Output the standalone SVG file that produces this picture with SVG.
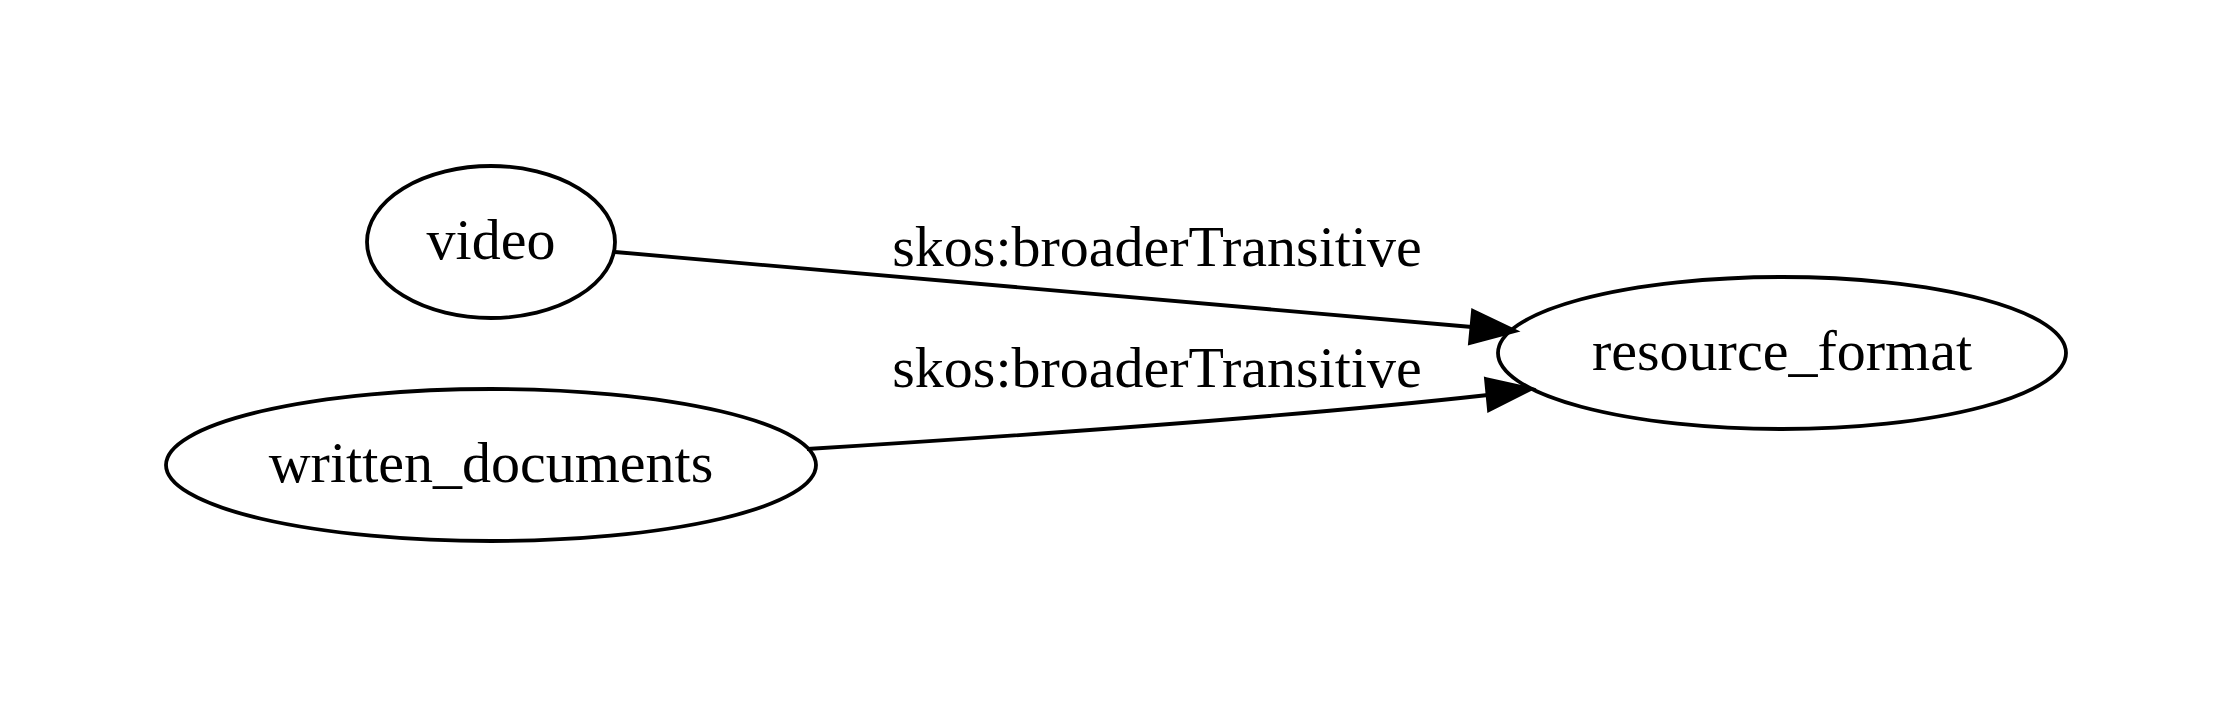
<svg xmlns="http://www.w3.org/2000/svg" width="2233" height="708" viewBox="0 0 2233 708">
<style>
.node ellipse{fill:none;stroke:#000;stroke-width:3.8}
text{font-family:"Liberation Serif","Times New Roman",serif;font-size:58px;fill:#000;text-anchor:middle}
.edge path{fill:none;stroke:#000;stroke-width:3.8}
.edge polygon{fill:#000;stroke:#000;stroke-width:3.8}
</style>
<rect width="2233" height="708" fill="#fff"/>
<g id="video" class="node">
<ellipse cx="491" cy="242" rx="124" ry="76"/>
<text x="491" y="259">video</text>
</g>
<g id="written_documents" class="node">
<ellipse cx="491" cy="465" rx="325" ry="76"/>
<text x="491" y="482">written_documents</text>
</g>
<g id="resource_format" class="node">
<ellipse cx="1782" cy="353" rx="284" ry="76"/>
<text x="1782" y="370">resource_format</text>
</g>
<g id="connectors" class="edge">
<path d="M615,252 L1472,327"/>
<polygon points="1473,311 1515,331 1470,343"/>
<text x="1157" y="266">skos:broaderTransitive</text>
<path d="M807,449 C1000,437 1300,416 1488,395"/>
<polygon points="1486,379 1531,389 1489,410"/>
<text x="1157" y="387">skos:broaderTransitive</text>
</g>
</svg>
